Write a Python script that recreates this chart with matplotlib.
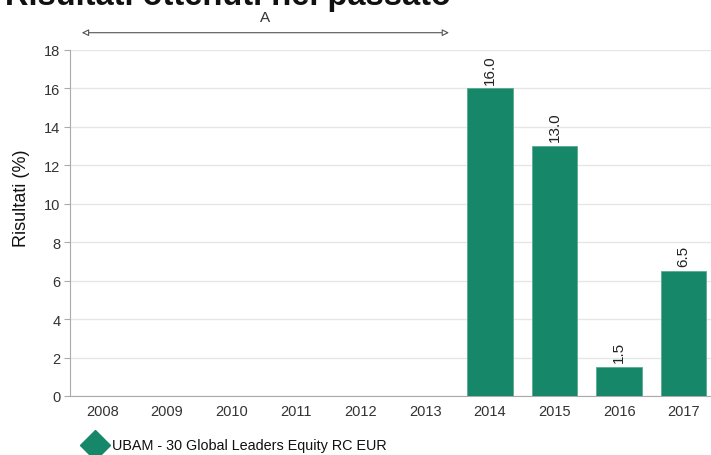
import matplotlib.pyplot as plt
from matplotlib.lines import Line2D

plt.rcParams['font.family'] = ['Liberation Sans', 'DejaVu Sans']

years = ['2008', '2009', '2010', '2011', '2012', '2013', '2014', '2015', '2016', '2017']
results = [None, None, None, None, None, None, 16.0, 13.0, 1.5, 6.5]
series_name = 'UBAM - 30 Global Leaders Equity RC EUR'
green = '#17876A'

fig = plt.figure(figsize=(7.11, 4.56), dpi=100)
ax = fig.add_axes([70 / 711, 1 - 397 / 456, 646 / 711, 346 / 456])

x = list(range(len(years)))
for i, v in enumerate(results):
    if v is None:
        continue
    ax.bar(i, v, width=0.7, color=green, edgecolor='#5aa98f', linewidth=0.6, zorder=3)
    ax.text(i, v + 0.25, f'{v:.1f}', rotation=90, ha='center', va='bottom',
            fontsize=11, color='#222222')

ax.set_xlim(-0.5, len(years) - 0.5)
ax.set_ylim(0, 18)
ax.set_yticks(range(0, 19, 2))
ax.set_xticks(x)
ax.set_xticklabels(years)
ax.grid(axis='y', color='#e6e6e6', linewidth=1, zorder=0)
ax.tick_params(axis='x', length=0, labelsize=10.5, colors='#333333', pad=6)
ax.tick_params(axis='y', length=4, labelsize=10.5, colors='#333333', pad=3)
ax.tick_params(axis='y', color='#aaaaaa')
for s in ['top', 'right']:
    ax.spines[s].set_visible(False)
ax.spines['left'].set_color('#aaaaaa')
ax.spines['bottom'].set_color('#aaaaaa')
ax.set_ylabel('Risultati (%)', fontsize=13, color='#111111')
ax.yaxis.set_label_coords(-0.062, 0.575)

# period marker
ax.annotate('', xy=(5.41, 1.05), xycoords=('data', 'axes fraction'),
            xytext=(-0.36, 1.05), textcoords=('data', 'axes fraction'),
            arrowprops=dict(arrowstyle='<|-|>', color='#555555', lw=0.8,
                            fc='white', mutation_scale=10),
            annotation_clip=False)
ax.text(2.52, 1.075, 'A', transform=ax.get_xaxis_transform(), ha='center',
        va='bottom', fontsize=11, color='#333333')

fig.text(0.007, 0.988, 'Risultati ottenuti nel passato', fontsize=23.5,
         fontweight='bold', ha='left', va='baseline', color='#111111')

# legend entry
ly = 1 - 446 / 456
fig.add_artist(Line2D([95 / 711], [ly], marker='D', color=green,
                      linestyle='none', markersize=15, transform=fig.transFigure))
fig.text(112 / 711, ly, series_name, fontsize=10.4, ha='left', va='center',
         color='#111111')

fig.savefig('out.png', dpi=100)
